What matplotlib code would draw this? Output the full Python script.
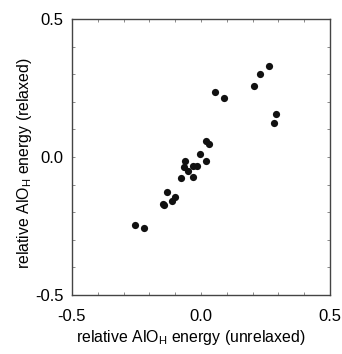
import numpy as np
import matplotlib
matplotlib.use("Agg")
import matplotlib.pyplot as plt
from matplotlib.ticker import MultipleLocator

plt.rcParams['font.family'] = ['Liberation Sans', 'DejaVu Sans']
plt.rcParams['mathtext.fontset'] = 'custom'
plt.rcParams['mathtext.rm'] = 'Liberation Sans'

# relative AlO_H energy, unrelaxed (x) vs relaxed (y)
unrelaxed = [-0.256, -0.221, -0.148, -0.142, -0.133, -0.114, -0.101, -0.079,
             -0.065, -0.061, -0.050, -0.032, -0.032, -0.014, -0.004, 0.019,
             0.021, 0.032, 0.055, 0.089, 0.205, 0.230, 0.262, 0.290, 0.284]
relaxed = [-0.246, -0.257, -0.170, -0.174, -0.126, -0.159, -0.144, -0.077,
           -0.035, -0.014, -0.050, -0.033, -0.071, -0.033, 0.010, -0.014,
           0.058, 0.048, 0.234, 0.215, 0.258, 0.300, 0.330, 0.155, 0.122]
ticks = [-0.5, 0.0, 0.5]
tick_labels = ['-0.5', '0.0', '0.5']

fig = plt.figure(figsize=(3.42, 3.54), dpi=100)
ax = fig.add_axes([0.2105, 0.1667, 0.7545, 0.7796])

ax.plot(unrelaxed, relaxed, marker='o', color='#111111', ls='', ms=5.2, mew=0)

ax.set_xlim(-0.5, 0.5)
ax.set_ylim(-0.5, 0.5)
ax.set_xticks(ticks)
ax.set_xticklabels(tick_labels)
ax.set_yticks(ticks)
ax.set_yticklabels(tick_labels)
ax.xaxis.set_minor_locator(MultipleLocator(0.1))
ax.yaxis.set_minor_locator(MultipleLocator(0.1))
ax.tick_params(which='both', direction='in', top=True, right=True,
               color='#777777', width=0.6)
ax.tick_params(which='major', length=2.5, labelsize=12)
ax.tick_params(which='minor', length=2)
ax.tick_params(axis='x', which='major', pad=10)
ax.tick_params(axis='y', which='major', pad=6)

for s in ax.spines.values():
    s.set_color('#444444')
    s.set_linewidth(1.0)

ax.set_xlabel(r'relative AlO$_\mathrm{H}$ energy (unrelaxed)', fontsize=11.4)
ax.set_ylabel(r'relative AlO$_\mathrm{H}$ energy (relaxed)', fontsize=11.4)
ax.xaxis.set_label_coords(0.461, -0.118)
ax.yaxis.set_label_coords(-0.148, 0.476)

fig.savefig('out.png', dpi=100)
